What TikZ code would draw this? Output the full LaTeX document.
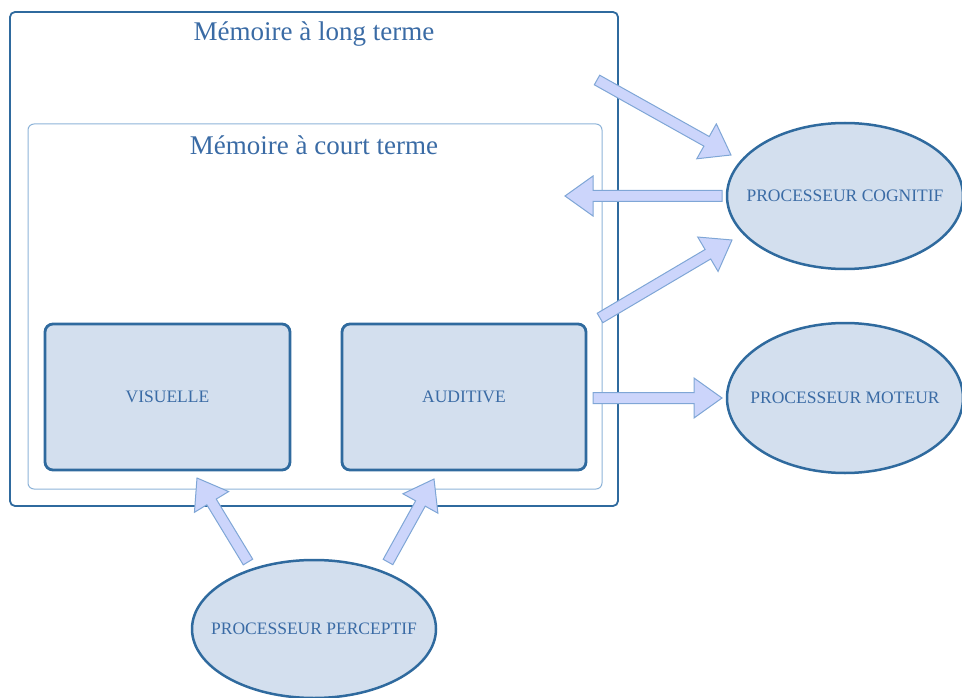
\documentclass[tikz,border=0pt]{standalone}
\usepackage{fontspec}
\setmainfont{Liberation Serif}
\usepackage{xcolor}
\usetikzlibrary{calc, shapes.geometric, positioning}
\definecolor{boxblue}{HTML}{2F6A9E}
\definecolor{lightline}{HTML}{8DB3D8}
\definecolor{unitfill}{HTML}{D3DFEE}
\definecolor{textblue}{HTML}{3A6BA5}
\definecolor{arrowfill}{HTML}{CCD5FB}
\definecolor{arrowline}{HTML}{7FA6D6}
\tikzset{
    memtitle/.style={text=textblue, font=\fontsize{27}{31}\selectfont, inner sep=0pt},
    longbox/.style={draw=boxblue, line width=1.8pt, rounded corners=5pt},
    shortbox/.style={draw=lightline, line width=1pt, rounded corners=6pt},
    unitbox/.style={draw=boxblue, line width=2.8pt, rounded corners=8pt, fill=unitfill, text=textblue, font=\fontsize{17.5}{20}\selectfont},
    procnode/.style={ellipse, draw=boxblue, line width=2.5pt, fill=unitfill, inner sep=0pt},
    proctext/.style={text=textblue, font=\fontsize{17.5}{20}\selectfont, inner sep=0pt},
    blockarrow/.style={draw=arrowline, fill=arrowfill, line width=1pt, line join=miter,
        to path={($(\tikztostart)!5.5pt!-90:(\tikztotarget)$)
            -- ($(\tikztotarget)!28pt!(\tikztostart)!5.5pt!90:(\tikztostart)$)
            -- ($(\tikztotarget)!28pt!(\tikztostart)!20pt!90:(\tikztostart)$)
            -- (\tikztotarget)
            -- ($(\tikztotarget)!28pt!(\tikztostart)!20pt!-90:(\tikztostart)$)
            -- ($(\tikztotarget)!28pt!(\tikztostart)!5.5pt!-90:(\tikztostart)$)
            -- ($(\tikztostart)!5.5pt!90:(\tikztotarget)$) -- cycle}},
}

\begin{document}
\begin{tikzpicture}[x=1pt, y=-1pt]
\useasboundingbox (0,0) rectangle (962,698);

% ============================================================
% MEMORIES
% ============================================================
\node[longbox, minimum width=608pt, minimum height=494pt] (ltm) at (314,259) {};
\node[memtitle] (ltmtitle) at (314,34) {Mémoire à long terme};

\node[shortbox, minimum width=574pt, minimum height=365pt] (stm) at (315,306.5) {};
\node[memtitle] (stmtitle) at (314,145) {Mémoire à court terme};

\node[unitbox, minimum width=245pt, minimum height=146pt] (vis) at (167.5,397) {VISUELLE};
\node[unitbox, minimum width=244pt, minimum height=146pt] (aud) at (464,397) {AUDITIVE};

% ============================================================
% PROCESSORS
% ============================================================
\node[procnode, minimum width=236pt, minimum height=146pt,
    label={[proctext]center:PROCESSEUR COGNITIF}] (cog) at (845,196) {};
\node[procnode, minimum width=236pt, minimum height=150pt,
    label={[proctext]center:PROCESSEUR MOTEUR}] (mot) at (845,398) {};
\node[procnode, minimum width=244pt, minimum height=138pt,
    label={[proctext]center:PROCESSEUR PERCEPTIF}] (per) at (314,629) {};

% arrow ends
\coordinate (ltmout) at (597,80);
\coordinate (cogin1) at (731,155);
\coordinate (cogout) at (722,196);
\coordinate (stmin) at (565,196);
\coordinate (audout1) at (600,318);
\coordinate (cogin2) at (732,240);
\coordinate (audout2) at (593,398);
\coordinate (motin) at (722,398);
\coordinate (perout1) at (248,562);
\coordinate (visin) at (197,478);
\coordinate (perout2) at (388,562);
\coordinate (audin) at (434,479);

\draw[blockarrow] (ltmout) to (cogin1);
\draw[blockarrow] (cogout) to (stmin);
\draw[blockarrow] (audout1) to (cogin2);
\draw[blockarrow] (audout2) to (motin);
\draw[blockarrow] (perout1) to (visin);
\draw[blockarrow] (perout2) to (audin);

\end{tikzpicture}
\end{document}
